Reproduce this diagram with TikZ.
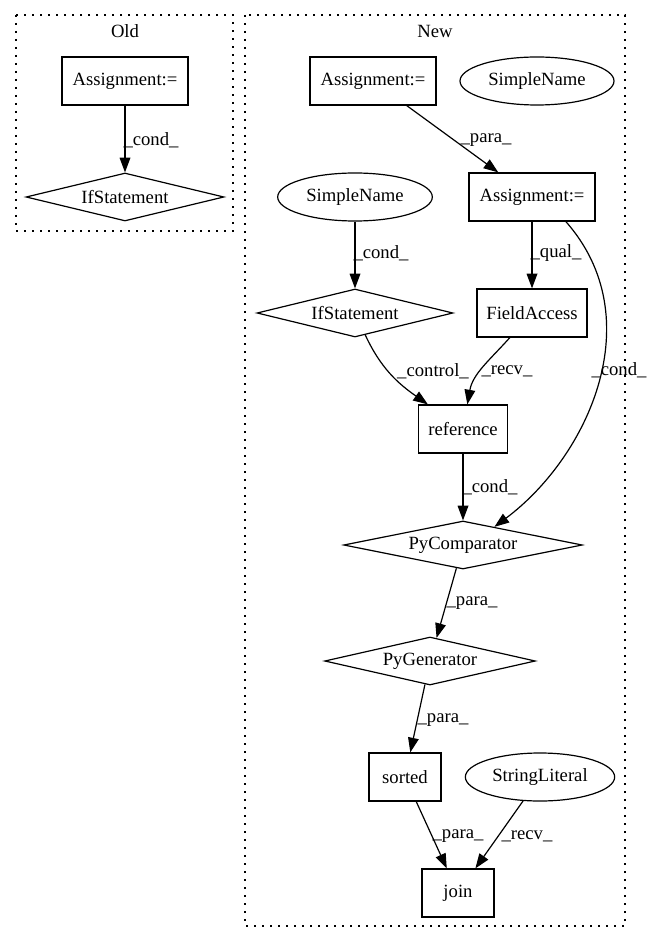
\documentclass[tikz,border=0pt]{standalone}
\usepackage{fontspec}
\setmainfont{Liberation Serif}
\usetikzlibrary{shapes.geometric, arrows.meta}

\begin{document}
\begin{tikzpicture}[x=0.75pt, y=-0.75pt, line width=0.9pt,
    font=\fontsize{14pt}{16pt}\selectfont,
    box/.style={draw, rectangle, minimum height=36pt, inner sep=0pt},
    oval/.style={draw, ellipse, minimum height=36pt, inner sep=0pt},
    rhomb/.style={draw, diamond, aspect=4, minimum height=36pt, inner sep=0pt},
    flow/.style={-{Triangle[length=11pt, width=8pt]}},
    lbl/.style={inner sep=0pt},
    cluster/.style={draw, dash pattern=on 1.5pt off 4.5pt}]
    \useasboundingbox (0,0) rectangle (652,944);

    % clusters
    \draw[cluster] (16,15) rectangle (233,231);
    \draw[cluster] (245,15) rectangle (625,926);
    \node (old) at (125,31) {Old};
    \node (new) at (435,31) {New};

    % old
    \node[box, minimum width=94.5pt] (oasg) at (125,81) {Assignment:=};
    \node[rhomb, minimum width=148.5pt] (oifs) at (125,197) {IfStatement};

    % new
    \node[box, minimum width=94.5pt] (asg1) at (373,81) {Assignment:=};
    \node[oval, minimum width=115.5pt] (sn1) at (537,81) {SimpleName};
    \node[box, minimum width=94.5pt] (asg2) at (532,197) {Assignment:=};
    \node[oval, minimum width=116pt] (sn2) at (355,197) {SimpleName};
    \node[rhomb, minimum width=147pt] (ifs) at (355,313) {IfStatement};
    \node[box, minimum width=82.5pt] (fa) at (532,313) {FieldAccess};
    \node[box, minimum width=67pt] (ref) at (463,429) {reference};
    \node[rhomb, minimum width=179pt] (pyc) at (463,545) {PyComparator};
    \node[rhomb, minimum width=158pt] (pyg) at (430,661) {PyGenerator};
    \node[box, minimum width=54pt] (sorted) at (405,777) {sorted};
    \node[oval, minimum width=112pt] (sl) at (540,777) {StringLiteral};
    \node[box, minimum width=54pt] (join) at (458,893) {join};

    % straight edges
    \foreach \s/\t in {oasg/oifs, asg1/asg2, sn2/ifs, asg2/fa, ref/pyc,
                      pyc/pyg, pyg/sorted, sorted/join, sl/join} {
        \draw[flow] (\s) -- (\t);
    }
    % curved edges
    \draw[flow] (ifs) to[out=-65, in=145] (ref);
    \draw[flow] (fa) to[out=-132, in=80] (ref);
    \draw[flow] (asg2.-36) .. controls (651,318) and (589,456) .. (pyc.30);

    % edge labels
    \node[lbl] (l1) at (151,140) {\_cond\_};
    \node[lbl] (l2) at (486,140) {\_para\_};
    \node[lbl] (l3) at (381,253) {\_cond\_};
    \node[lbl] (l4) at (556,253) {\_qual\_};
    \node[lbl] (l5) at (433,371) {\_control\_};
    \node[lbl] (l6) at (507,371) {\_recv\_};
    \node[lbl] (l7) at (619,370) {\_cond\_};
    \node[lbl] (l8) at (490,487) {\_cond\_};
    \node[lbl] (l9) at (472,603) {\_para\_};
    \node[lbl] (l10) at (443,720) {\_para\_};
    \node[lbl] (l11) at (458,836) {\_para\_};
    \node[lbl] (l12) at (527,836) {\_recv\_};
\end{tikzpicture}
\end{document}
